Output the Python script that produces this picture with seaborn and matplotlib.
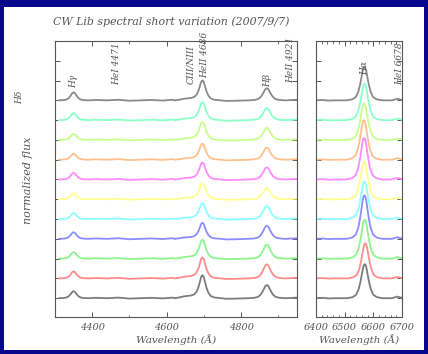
import numpy as np
import pandas as pd
import matplotlib.pyplot as plt
import matplotlib.patches as patches
import matplotlib.ticker as mticker
import seaborn as sns

# --- data (spectra listed bottom -> top) ---
SPECTRA = ["s01", "s02", "s03", "s04", "s05", "s06", "s07", "s08", "s09", "s10", "s11"]
OFFSETS = [0, 1, 2, 3, 4, 5, 6, 7, 8, 9, 10]
COLORS = ["#7c7c7c", "#ff8c8c", "#8cf58c", "#8c8cff", "#8cffff", "#ffff8c",
          "#ff8cff", "#ffc08c", "#c8ff8c", "#8cffc8", "#8a8a8a"]

# peak heights above continuum (continuum = 1)
H_GAMMA = [0.35, 0.35, 0.33, 0.33, 0.30, 0.30, 0.33, 0.30, 0.30, 0.35, 0.40]
HEII_4686 = [1.16, 1.06, 0.96, 0.81, 0.81, 0.81, 0.86, 0.81, 0.91, 0.91, 1.01]
H_BETA = [0.66, 0.71, 0.71, 0.66, 0.66, 0.56, 0.61, 0.61, 0.61, 0.61, 0.61]
H_ALPHA = [1.72, 1.77, 1.97, 2.20, 1.90, 1.90, 2.10, 2.00, 1.85, 1.85, 1.70]
H_ALPHA_CENTER = [6570, 6572, 6570, 6569, 6569, 6568, 6568, 6567, 6568, 6569, 6569]

# observed line centres (A)
CEN_HG, CEN_HEII, CEN_HB = 4350, 4696, 4869

# emission line profile (offset in A, relative height)
LINE_DX = [-50, -34, -24, -17, -12, -8, -5, -2.5, 0, 2.5, 5, 8, 12, 17, 24, 34, 50]
LINE_PROFILE = [0.0, 0.03, 0.10, 0.26, 0.48, 0.70, 0.88, 0.97, 1.0,
                0.97, 0.88, 0.70, 0.48, 0.26, 0.10, 0.03, 0.0]
# HeII 4686 with the CIII/NIII blend on its blue side
HEII_DX = [-75, -60, -50, -40, -30, -22, -16, -11, -7, -4, -2, 0,
           2, 4, 7, 11, 16, 22, 32, 50]
HEII_PROFILE = [0.0, 0.04, 0.08, 0.10, 0.12, 0.17, 0.28, 0.47, 0.70, 0.90, 0.97, 1.0,
                0.97, 0.90, 0.70, 0.45, 0.24, 0.10, 0.03, 0.0]
W_HG, W_HB, W_HA = 0.8, 1.0, 1.25

# continuum anchors and small ripple
CONT_BLUE_WL = [4410, 4440, 4470, 4500, 4530, 4560, 4590, 4615, 4760, 4785, 4950]
CONT_BLUE_RIPPLE = [0.02, 0.0, 0.03, -0.02, 0.0, 0.02, -0.01, 0.03, -0.03, -0.02, 0.03]
CONT_RED_WL = [6400, 6420, 6445, 6465, 6665, 6683, 6700]
CONT_RED_RIPPLE = [0.0, 0.02, -0.01, 0.0, 0.0, 0.08, 0.02]

LINE_LABELS = [("H\u03b3", 4350, 11.63), ("HeI 4471", 4466, 11.78),
               ("CIII/NIII", 4663, 11.83), ("HeII 4686", 4703, 12.14),
               ("H\u03b2", 4871, 11.68), ("HeII 4921", 4934, 11.90)]
LINE_LABELS_RED = [("H\u03b1", 6571, 12.29), ("HeI 6678", 6693, 11.78)]

INK = "#555555"


def build_blue(i):
    wl = list(CONT_BLUE_WL)
    fl = list(CONT_BLUE_RIPPLE)
    for dx, p in zip(LINE_DX, LINE_PROFILE):
        wl.append(CEN_HG + W_HG * dx); fl.append(H_GAMMA[i] * p)
        wl.append(CEN_HB + W_HB * dx); fl.append(H_BETA[i] * p)
    for dx, p in zip(HEII_DX, HEII_PROFILE):
        wl.append(CEN_HEII + dx); fl.append(HEII_4686[i] * p)
    df = pd.DataFrame({"wl": wl, "flux": np.array(fl) + 1.0 + OFFSETS[i]})
    df["spec"] = SPECTRA[i]
    return df


def build_red(i):
    wl = list(CONT_RED_WL)
    fl = list(CONT_RED_RIPPLE)
    for dx, p in zip(LINE_DX, LINE_PROFILE):
        wl.append(H_ALPHA_CENTER[i] + W_HA * dx); fl.append(H_ALPHA[i] * p)
    df = pd.DataFrame({"wl": wl, "flux": np.array(fl) + 1.0 + OFFSETS[i]})
    df["spec"] = SPECTRA[i]
    return df


blue = pd.concat([build_blue(i) for i in range(len(SPECTRA))]).sort_values(["spec", "wl"])
red = pd.concat([build_red(i) for i in range(len(SPECTRA))]).sort_values(["spec", "wl"])
palette = dict(zip(SPECTRA, COLORS))

sns.set_style("ticks")
plt.rcParams["font.family"] = ["DejaVu Serif"]
plt.rcParams["font.style"] = "italic"

fig = plt.figure(figsize=(4.28, 3.54), dpi=100, facecolor="#07078c")
fig.patches.append(patches.Rectangle((4 / 428, 4 / 354), 420 / 428, 343 / 354,
                                     transform=fig.transFigure, facecolor="white",
                                     edgecolor="none", zorder=-10))

ax1 = fig.add_axes([55 / 428, 37 / 354, 242 / 428, 276 / 354])
ax2 = fig.add_axes([316 / 428, 37 / 354, 86 / 428, 276 / 354])

for ax, data in ((ax1, blue), (ax2, red)):
    sns.lineplot(data=data, x="wl", y="flux", hue="spec", hue_order=SPECTRA,
                 palette=palette, estimator=None, sort=True, legend=False,
                 linewidth=1.3, ax=ax)
    ax.set_ylim(0.05, 14.0)
    ax.yaxis.set_major_locator(mticker.FixedLocator(range(1, 14)))
    ax.set_yticklabels([])
    ax.set_ylabel("")
    ax.set_xlabel("Wavelength (\u00c5)", fontsize=7.5, color=INK, labelpad=2)
    ax.tick_params(which="both", direction="in", top=True, right=True,
                   colors=INK, labelsize=7, pad=4)
    ax.tick_params(which="major", length=3.5, width=0.7)
    ax.tick_params(which="minor", length=1.8, width=0.6)
    for sp in ax.spines.values():
        sp.set_color(INK)
        sp.set_linewidth(0.8)
    ax.set_facecolor("white")

ax1.set_xlim(4300, 4950)
ax1.xaxis.set_major_locator(mticker.MultipleLocator(200))
ax1.xaxis.set_minor_locator(mticker.MultipleLocator(100))
ax2.set_xlim(6400, 6700)
ax2.xaxis.set_major_locator(mticker.MultipleLocator(100))
ax2.xaxis.set_minor_locator(mticker.MultipleLocator(20))

for txt, x, y in LINE_LABELS:
    ax1.text(x, y, txt, rotation=90, ha="center", va="bottom", fontsize=6.5,
             color=INK, clip_on=False)
for txt, x, y in LINE_LABELS_RED:
    ax2.text(x, y, txt, rotation=90, ha="center", va="bottom", fontsize=6.5,
             color=INK, clip_on=False)

fig.text(53 / 428, 1 - 22 / 354, "CW Lib spectral short variation (2007/9/7)",
         ha="left", va="center", fontsize=7.9, color=INK)
fig.text(28 / 428, 1 - 180 / 354, "normalized flux", rotation=90,
         ha="center", va="center", fontsize=8, color=INK)
fig.text(20 / 428, 1 - 97 / 354, "H\u03b4", rotation=90,
         ha="center", va="center", fontsize=6.5, color=INK)

fig.savefig("out.png", dpi=100, facecolor=fig.get_facecolor())
